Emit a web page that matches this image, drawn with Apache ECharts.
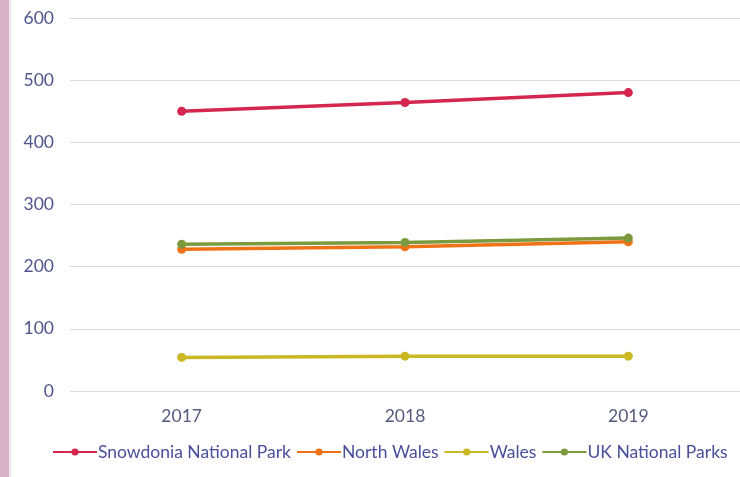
<!DOCTYPE html>
<html>
<head>
<meta charset="utf-8">
<script src="https://cdn.jsdelivr.net/npm/echarts@6/dist/echarts.min.js"></script>
<style>html,body{margin:0;padding:0;background:#fff;}#c{width:740px;height:477px;}</style>
</head>
<body>
<div id="c"></div>
<script>
var categories = ['2017', '2018', '2019'];
var snowdonia = [450, 464, 480];
var northWales = [228, 232, 240];
var wales = [54, 56, 56];
var ukParks = [236, 239, 246];
var yTicks = [0, 100, 200, 300, 400, 500, 600];

var chart = echarts.init(document.getElementById('c'), null, {renderer: 'canvas'});
function s(name, data, color) {
  return {
    name: name, type: 'line', data: data,
    symbol: 'circle', symbolSize: 9,
    lineStyle: {width: 3.5, color: color},
    itemStyle: {color: color},
    emphasis: {disabled: true}
  };
}
chart.setOption({
  animation: false,
  textStyle: {fontFamily: 'Lato'},
  graphic: [{type: 'rect', left: 0, top: 0, shape: {width: 9, height: 477}, style: {fill: '#d6b3c8'}},
            {type: 'rect', left: 9, top: 0, shape: {width: 2, height: 477}, style: {fill: '#ece6ea'}}],
  grid: {left: 70, right: 0, top: 18, bottom: 86},
  xAxis: {
    type: 'category', data: categories, boundaryGap: true,
    axisLine: {show: false}, axisTick: {show: false},
    axisLabel: {color: '#555a7e', fontSize: 17.5, margin: 16, fontFamily: 'Lato'}
  },
  yAxis: {
    type: 'value', min: yTicks[0], max: yTicks[yTicks.length - 1], interval: 100,
    axisLine: {show: false}, axisTick: {show: false},
    axisLabel: {color: '#50558e', fontSize: 17.5, margin: 16, fontFamily: 'Lato'},
    splitLine: {lineStyle: {color: '#d9d9d9', width: 1}}
  },
  legend: {
    bottom: 11, left: 47, itemWidth: 44, itemHeight: 9, itemGap: 5,
    textStyle: {color: '#4a4f9c', fontSize: 17.5, fontFamily: 'Lato', padding: [0, 0, 0, -4]},
    data: ['Snowdonia National Park', 'North Wales', 'Wales', 'UK National Parks']
  },
  series: [
    s('Snowdonia National Park', snowdonia, '#d4264f'),
    s('North Wales', northWales, '#f07216'),
    s('Wales', wales, '#c9b824'),
    s('UK National Parks', ukParks, '#7b9a3e')
  ]
});
</script>
</body>
</html>
